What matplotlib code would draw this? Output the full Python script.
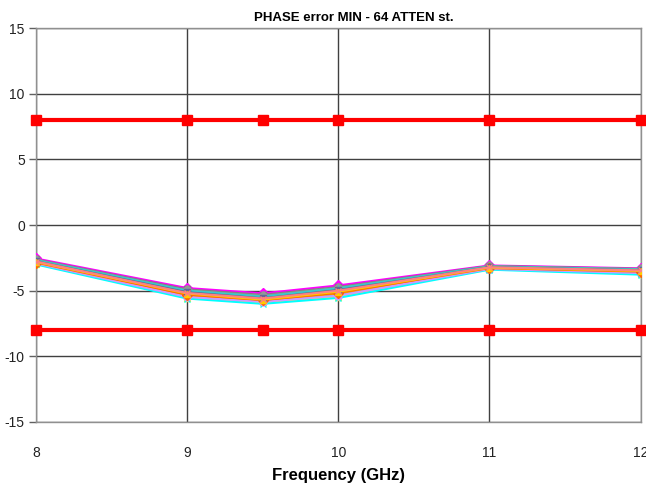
import matplotlib.pyplot as plt

plt.rcParams['font.family'] = ['Liberation Sans', 'DejaVu Sans']
plt.rcParams['axes.unicode_minus'] = False

# measurement frequencies (GHz)
freq = [8, 9, 9.5, 10, 11, 12]

# spec limits on phase error (deg)
upper_limit = [8, 8, 8, 8, 8, 8]
lower_limit = [-8, -8, -8, -8, -8, -8]

# phase error per attenuation state (deg)
st01 = [-2.55, -4.80, -5.20, -4.60, -3.08, -3.30]
st02 = [-2.62, -4.90, -5.32, -4.72, -3.12, -3.34]
st03 = [-2.95, -5.55, -5.90, -5.45, -3.35, -3.70]
st04 = [-3.00, -5.60, -6.00, -5.55, -3.40, -3.78]
st05 = [-2.70, -5.05, -5.50, -4.85, -3.18, -3.40]
st06 = [-2.78, -5.15, -5.62, -4.98, -3.22, -3.45]
st07 = [-2.84, -5.25, -5.70, -5.10, -3.26, -3.52]
st08 = [-2.66, -4.98, -5.40, -4.78, -3.15, -3.36]
st09 = [-2.90, -5.40, -5.80, -5.30, -3.32, -3.62]
st10 = [-2.74, -5.10, -5.55, -4.92, -3.20, -3.42]
st11 = [-2.88, -5.35, -5.76, -5.22, -3.30, -3.58]
st12 = [-2.80, -5.20, -5.66, -5.04, -3.24, -3.48]
st13 = [-2.92, -5.48, -5.85, -5.38, -3.34, -3.66]
st14 = [-2.68, -5.00, -5.45, -4.82, -3.16, -3.38]
st15 = [-2.86, -5.30, -5.72, -5.15, -3.28, -3.55]
st16 = [-2.76, -5.12, -5.58, -4.95, -3.21, -3.44]
st17 = [-2.82, -5.22, -5.68, -5.08, -3.25, -3.50]
st18 = [-2.78, -5.18, -5.60, -5.00, -3.22, -3.46]

states = [st01, st02, st03, st04, st05, st06, st07, st08, st09,
          st10, st11, st12, st13, st14, st15, st16, st17, st18]

colors = ['#FF00FF', '#808080', '#FFFF00', '#00FFFF', '#800080', '#800000',
          '#008080', '#969696', '#00CCFF', '#99CC00', '#FF9900', '#000080',
          '#CC99FF', '#33CCCC', '#FF6600', '#666699', '#FFCC00', '#FF8080']
markers = ['D', 's', '^', 'x', '*', 'o', '+']

fig = plt.figure(figsize=(6.46, 4.83), dpi=100)
ax = fig.add_axes([0.0557, 0.1263, 0.936, 0.8157])

for i, s in enumerate(states):
    ax.plot(freq, s, color=colors[i], marker=markers[i % len(markers)],
            markersize=5, linewidth=1.5, zorder=3)

for lim in (upper_limit, lower_limit):
    ax.plot(freq, lim, color='red', marker='s', markersize=6.5, linewidth=3,
            zorder=4, clip_on=False)

ax.set_xlim(8, 12)
ax.set_ylim(-15, 15)
ax.set_xticks([8, 9, 10, 11, 12])
ax.set_yticks(range(-15, 16, 5))
ax.grid(True, color='#404040', linewidth=1, zorder=1)
ax.set_axisbelow(True)

for sp in ax.spines.values():
    sp.set_color('#909090')
    sp.set_linewidth(1)

ax.tick_params(axis='x', length=0, pad=17, labelsize=10, labelcolor='#222222')
ax.tick_params(axis='y', length=5, width=1, color='#606060', pad=3,
               labelsize=10, labelcolor='#222222')

ax.set_title('PHASE error MIN - 64 ATTEN st.', fontsize=9.5, fontweight='bold',
             x=0.526, pad=5)
ax.set_xlabel('Frequency (GHz)', fontsize=12, fontweight='bold', labelpad=6)

fig.savefig('out.png', dpi=100)
